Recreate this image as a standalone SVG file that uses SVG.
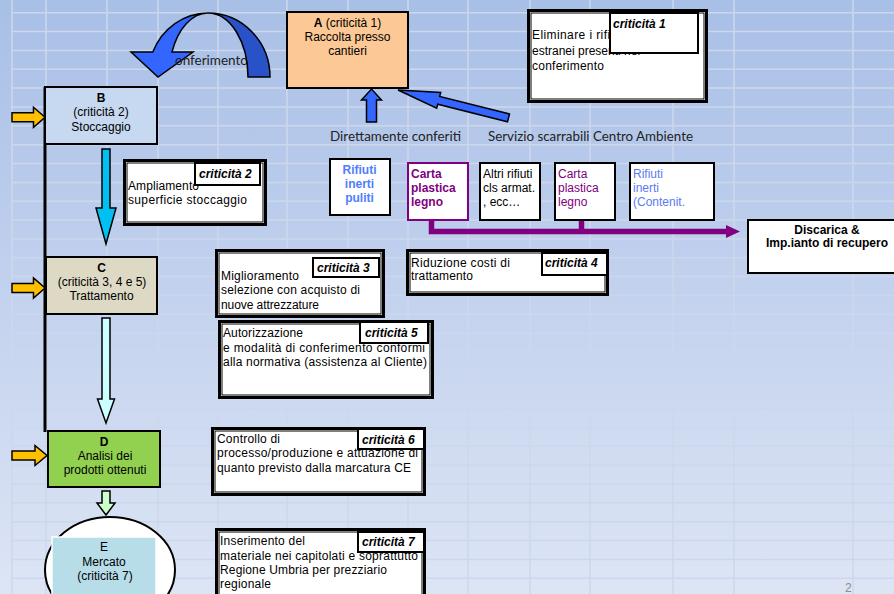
<svg xmlns="http://www.w3.org/2000/svg" width="894" height="594" viewBox="0 0 894 594">
<defs>
<linearGradient id="bg" x1="0" y1="0" x2="0" y2="1">
<stop offset="0" stop-color="#a8bfe6"/>
<stop offset="0.5" stop-color="#c3d2ee"/>
<stop offset="1" stop-color="#dde5f5"/>
</linearGradient>
<style>
.t{font-family:"Liberation Sans",Arial,sans-serif;font-size:12px;fill:#000}
.c{text-anchor:middle}
.b{font-weight:bold}
.bi{font-weight:bold;font-style:italic}
.cal{font-family:Lato,"Open Sans",sans-serif;font-size:13px;fill:#222}
.dbl{fill:#fff;stroke:#000;stroke-width:3}
.dbli{fill:none;stroke:#000;stroke-width:1}
.lab{fill:#fff;stroke:#000;stroke-width:2}
.node{stroke:#000;stroke-width:2}
.wb{fill:#fff;stroke:#000;stroke-width:2}
.arr{stroke:#000;stroke-width:1.5;stroke-linejoin:miter}
.grid{fill:none;stroke:#cdd7eb;stroke-width:1.5}
.blue{fill:#4f7dff}
.blue2{fill:#5b7cf0}
.purp{fill:#800080}
</style>
</defs>
<rect width="894" height="594" fill="url(#bg)"/>
<path class="grid" d="M12 0V594M46 0V594M107 0V594M158 0V594M218 0V594M287 0V594M348 0V594M408 0V594M468 0V594M530 0V594M590 0V594M673 0V594M734 0V594M853 0V594
M12 12.7H894M12 31.6H894M12 50.4H894M12 69.3H894M12 88.1H894M12 107H894M12 125.8H894M12 144.7H894M12 163.5H894M12 182.4H894M12 201.2H894M12 220.1H894M12 238.9H894M12 257.8H894M12 276.6H894M12 295.5H894M12 314.3H894M12 333.2H894M12 352H894M12 370.9H894M12 389.7H894M12 408.6H894M12 427.4H894M12 446.3H894M12 465.1H894M12 484H894M12 502.8H894M12 521.7H894M12 540.5H894M12 559.4H894M12 578.2H894"/>

<g id="connectors">
<line x1="45" y1="87" x2="45" y2="432" stroke="#000" stroke-width="3"/>
<polygon class="arr" fill="#ffc000" points="12,112.8 33.5,112.8 33.5,107.3 45,117.3 33.5,127.3 33.5,121.8 12,121.8"/>
<polygon class="arr" fill="#ffc000" points="12,283.5 33.5,283.5 33.5,278 45,288 33.5,298 33.5,292.5 12,292.5"/>
<polygon class="arr" fill="#ffc000" points="12,451 35,451 35,445.5 47,455.5 35,465.5 35,460 12,460"/>
<polygon class="arr" fill="#00bff3" points="102,149 110,149 110,208 116,208 106,244 96,208 102,208"/>
<polygon class="arr" fill="#ccffff" points="102,318 110,318 110,399 114.5,399 106,423 97.5,399 102,399"/>
<polygon class="arr" fill="#ccffcc" points="102,491 110,491 110,503 115,503 106,515 97,503 102,503"/>
<path class="arr" fill="#3366ff" stroke-width="2" d="M208,13 A60,64 0 0 0 152.8,52 L131,52 L158,77 L193,52 L172,52 A39,64 0 0 1 208,13 Z"/>
<text class="cal" x="175" y="65" textLength="73" lengthAdjust="spacingAndGlyphs">onferimento</text>
<path class="arr" fill="#2a52c8" stroke-width="2" d="M270,77 A62,64 0 0 0 208,13 A40,64 0 0 1 248,77 Z"/>
<polygon class="arr" fill="#3366ff" points="366.5,122 376.5,122 376.5,100 381.5,100 371.5,89 361.5,100 366.5,100"/>
<polygon class="arr" fill="#3366ff" points="398,90 440.7,92.5 439.7,96.4 509.5,114 507.5,121.8 437.7,104.2 436.7,108.1"/>
<text class="cal" x="330" y="141" textLength="131" lengthAdjust="spacingAndGlyphs">Direttamente conferiti</text>
<text class="cal" x="488" y="141" textLength="205" lengthAdjust="spacingAndGlyphs">Servizio scarrabili Centro Ambiente</text>
<path d="M431.5 220V231.5H727M581.5 220V231.5" fill="none" stroke="#800080" stroke-width="5.5"/>
<polygon points="726,225 740,231.5 726,238" fill="#800080"/>
</g>

<g id="nodeA">
<rect class="node" x="287" y="12" width="121" height="76" fill="#fcc895"/>
<text class="t c" x="347.5" y="27"><tspan class="b">A</tspan> (criticità 1)</text>
<text class="t c" x="347.5" y="41">Raccolta presso</text>
<text class="t c" x="347.5" y="55">cantieri</text>
</g>

<g id="nodeB">
<rect class="node" x="45" y="87" width="112" height="57" fill="#c6d9f1"/>
<text class="t c b" x="101" y="102">B</text>
<text class="t c" x="101" y="116">(criticità 2)</text>
<text class="t c" x="101" y="130.5">Stoccaggio</text>
</g>

<g id="nodeC">
<rect class="node" x="46" y="257" width="111" height="57" fill="#ddd9c4"/>
<text class="t c b" x="101.5" y="272">C</text>
<text class="t c" x="102" y="286">(criticità 3, 4 e 5)</text>
<text class="t c" x="101.5" y="300">Trattamento</text>
</g>

<g id="nodeD">
<rect class="node" x="48" y="431" width="112" height="56" fill="#92d050"/>
<text class="t c b" x="104" y="446">D</text>
<text class="t c" x="105" y="460">Analisi dei</text>
<text class="t c" x="105" y="474">prodotti ottenuti</text>
</g>

<g id="nodeE">
<ellipse cx="110" cy="570" rx="65" ry="53" fill="#fff" stroke="#000" stroke-width="2"/>
<rect x="52" y="537" width="104" height="60" fill="#b7dde8" stroke="#fff" stroke-width="1.5"/>
<text class="t c" x="104" y="551">E</text>
<text class="t c" x="104" y="566">Mercato</text>
<text class="t c" x="105" y="580">(criticità 7)</text>
</g>

<g id="crit1">
<rect class="dbl" x="528.5" y="10.5" width="178" height="91"/>
<rect class="dbli" x="531" y="13" width="173" height="86"/>
<text class="t" x="532" y="39" textLength="92" lengthAdjust="spacing">Eliminare i rifiuti</text>
<text class="t" x="532" y="55">estranei presenti nel</text>
<text class="t" x="532" y="69.5" textLength="72" lengthAdjust="spacing">conferimento</text>
<rect class="lab" x="610" y="13" width="88" height="40"/>
<text class="t bi" x="613" y="27.5">criticità 1</text>
</g>

<g id="crit2">
<rect class="dbl" x="124.5" y="160.5" width="141" height="64"/>
<rect class="dbli" x="127" y="163" width="136" height="59"/>
<text class="t" x="128" y="189.5" textLength="71" lengthAdjust="spacing">Ampliamento</text>
<text class="t" x="128" y="203.5" textLength="119" lengthAdjust="spacing">superficie stoccaggio</text>
<rect class="lab" x="195" y="163" width="65" height="22"/>
<text class="t bi" x="199" y="178">criticità 2</text>
</g>

<g id="crit3">
<rect class="dbl" x="216.5" y="250.5" width="167" height="66"/>
<rect class="dbli" x="219" y="253" width="162" height="61"/>
<text class="t" x="221" y="279.5" textLength="78" lengthAdjust="spacing">Miglioramento</text>
<text class="t" x="221" y="294" textLength="139" lengthAdjust="spacing">selezione con acquisto di</text>
<text class="t" x="221" y="308.5" textLength="98" lengthAdjust="spacing">nuove attrezzature</text>
<rect class="lab" x="313" y="258" width="66" height="19"/>
<text class="t bi" x="317" y="272">criticità 3</text>
</g>

<g id="crit4">
<rect class="dbl" x="407.5" y="250.5" width="200" height="44"/>
<rect class="dbli" x="410" y="253" width="195" height="39"/>
<text class="t" x="411" y="266.5" textLength="99" lengthAdjust="spacing">Riduzione costi di</text>
<text class="t" x="411" y="280" textLength="62" lengthAdjust="spacing">trattamento</text>
<rect class="lab" x="542" y="253" width="65" height="22"/>
<text class="t bi" x="545" y="267">criticità 4</text>
</g>

<g id="crit5">
<rect class="dbl" x="219.5" y="321.5" width="213" height="76"/>
<rect class="dbli" x="222" y="324" width="208" height="71"/>
<text class="t" x="223" y="337" textLength="80" lengthAdjust="spacing">Autorizzazione</text>
<text class="t" x="223" y="351.5" textLength="202" lengthAdjust="spacing">e modalità di conferimento conformi</text>
<text class="t" x="223" y="365.5" textLength="204" lengthAdjust="spacing">alla normativa (assistenza al Cliente)</text>
<rect class="lab" x="360" y="322" width="68" height="21"/>
<text class="t bi" x="365" y="336.5">criticità 5</text>
</g>

<g id="crit6">
<rect class="dbl" x="212.5" y="428.5" width="212" height="66"/>
<rect class="dbli" x="215" y="431" width="207" height="61"/>
<text class="t" x="217" y="443" textLength="63" lengthAdjust="spacing">Controllo di</text>
<text class="t" x="217" y="457.3" textLength="201" lengthAdjust="spacing">processo/produzione e attuazione di</text>
<text class="t" x="217" y="471.5" textLength="194" lengthAdjust="spacing">quanto previsto dalla marcatura CE</text>
<rect class="lab" x="358" y="429" width="66" height="20"/>
<text class="t bi" x="362" y="444">criticità 6</text>
</g>

<g id="crit7">
<rect class="dbl" x="216.5" y="529.5" width="208" height="80"/>
<rect class="dbli" x="219" y="532" width="203" height="75"/>
<text class="t" x="220" y="545" textLength="85" lengthAdjust="spacing">Inserimento del</text>
<text class="t" x="220" y="559.5" textLength="198" lengthAdjust="spacing">materiale nei capitolati e soprattutto</text>
<text class="t" x="220" y="573.5" textLength="167" lengthAdjust="spacing">Regione Umbria per prezziario</text>
<text class="t" x="220" y="588" textLength="51" lengthAdjust="spacing">regionale</text>
<rect class="lab" x="358" y="532" width="66" height="20"/>
<text class="t bi" x="362" y="545.5">criticità 7</text>
</g>

<g id="w1">
<rect class="wb" x="330" y="159" width="60" height="56"/>
<text class="t c b blue" x="359.5" y="174">Rifiuti</text>
<text class="t c b blue" x="359.5" y="188">inerti</text>
<text class="t c b blue" x="359.5" y="201.5">puliti</text>
</g>

<g id="w2">
<rect x="408" y="163" width="60" height="57" fill="#fff" stroke="#800080" stroke-width="2"/>
<text class="t b purp" x="411" y="178">Carta</text>
<text class="t b purp" x="411" y="192">plastica</text>
<text class="t b purp" x="411" y="206">legno</text>
</g>

<g id="w3">
<rect class="wb" x="480" y="163" width="60" height="57"/>
<text class="t" x="483" y="178">Altri rifiuti</text>
<text class="t" x="483" y="192">cls armat.</text>
<text class="t" x="483" y="206">, ecc…</text>
</g>

<g id="w4">
<rect class="wb" x="555" y="163" width="60" height="57"/>
<text class="t purp" x="558" y="178">Carta</text>
<text class="t purp" x="558" y="192">plastica</text>
<text class="t purp" x="558" y="206">legno</text>
</g>

<g id="w5">
<rect class="wb" x="630" y="163" width="84" height="57"/>
<text class="t blue2" x="633" y="178">Rifiuti</text>
<text class="t blue2" x="633" y="192">inerti</text>
<text class="t blue2" x="633" y="205.5">(Contenit.</text>
</g>

<g id="discarica">
<rect class="wb" x="748" y="220" width="160" height="53"/>
<text class="t c b" x="827" y="234">Discarica &amp;</text>
<text class="t c b" x="827" y="247">Imp.ianto di recupero</text>
</g>

<text x="845" y="592" font-family="Liberation Sans, Arial, sans-serif" font-size="12" fill="#8c8c8c">2</text>
</svg>
